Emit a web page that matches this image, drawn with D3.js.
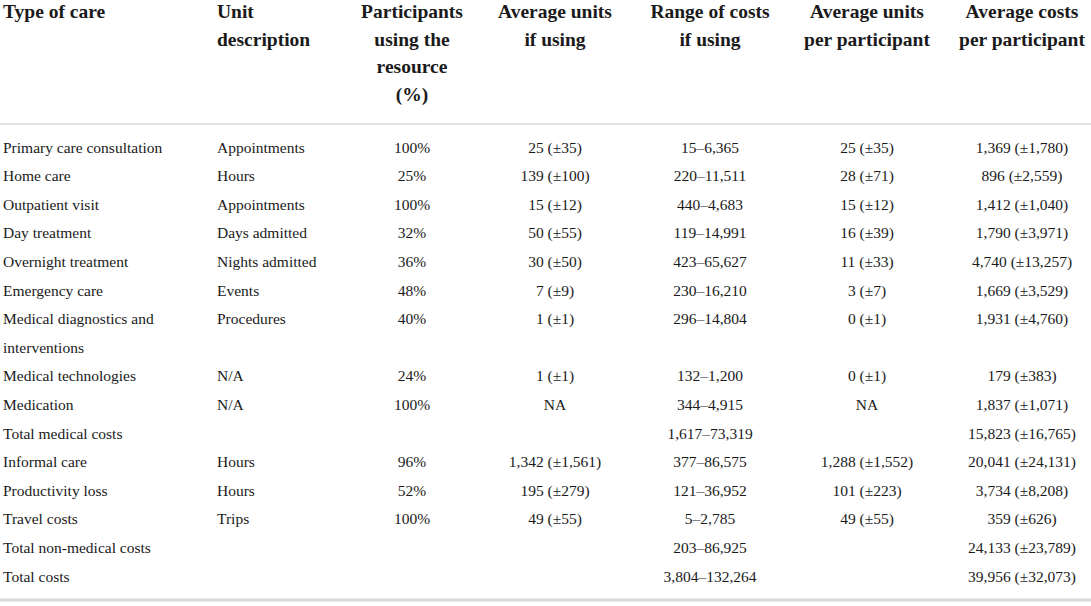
<!DOCTYPE html>
<html>
<head>
<meta charset="utf-8">
<script src="https://cdn.jsdelivr.net/npm/d3@7"></script>
<style>
  html, body { margin: 0; padding: 0; background: #fff; }
  svg { display: block; }
  .head { font-family: "Liberation Serif", "DejaVu Serif", serif; font-weight: bold; font-size: 19.5px; fill: #1a1a1a; }
  .cell { font-family: "Liberation Serif", "DejaVu Serif", serif; font-size: 15.5px; fill: #1a1a1a; }
</style>
</head>
<body>
<div id="chart"></div>
<script>
// Table values
const headers = [
    ['Type of care'],
    ['Unit', 'description'],
    ['Participants', 'using the', 'resource', '(%)'],
    ['Average units', 'if using'],
    ['Range of costs', 'if using'],
    ['Average units', 'per participant'],
    ['Average costs', 'per participant']
];

const careTypes = [
    'Primary care consultation', 'Home care', 'Outpatient visit', 'Day treatment',
    'Overnight treatment', 'Emergency care', 'Medical diagnostics and interventions',
    'Medical technologies', 'Medication', 'Total medical costs', 'Informal care',
    'Productivity loss', 'Travel costs', 'Total non-medical costs', 'Total costs'
];

const unitDescriptions = [
    'Appointments', 'Hours', 'Appointments', 'Days admitted', 'Nights admitted', 'Events',
    'Procedures', 'N/A', 'N/A', '', 'Hours', 'Hours', 'Trips', '', ''
];

const participantsPct = [
    '100%', '25%', '100%', '32%', '36%', '48%', '40%', '24%', '100%', '',
    '96%', '52%', '100%', '', ''
];

const avgUnitsIfUsing = [
    '25 (±35)', '139 (±100)', '15 (±12)', '50 (±55)', '30 (±50)', '7 (±9)', '1 (±1)',
    '1 (±1)', 'NA', '', '1,342 (±1,561)', '195 (±279)', '49 (±55)', '', ''
];

const costRanges = [
    '15–6,365', '220–11,511', '440–4,683', '119–14,991', '423–65,627', '230–16,210',
    '296–14,804', '132–1,200', '344–4,915', '1,617–73,319', '377–86,575', '121–36,952',
    '5–2,785', '203–86,925', '3,804–132,264'
];

const avgUnitsPerParticipant = [
    '25 (±35)', '28 (±71)', '15 (±12)', '16 (±39)', '11 (±33)', '3 (±7)', '0 (±1)',
    '0 (±1)', 'NA', '', '1,288 (±1,552)', '101 (±223)', '49 (±55)', '', ''
];

const avgCostsPerParticipant = [
    '1,369 (±1,780)', '896 (±2,559)', '1,412 (±1,040)', '1,790 (±3,971)', '4,740 (±13,257)',
    '1,669 (±3,529)', '1,931 (±4,760)', '179 (±383)', '1,837 (±1,071)', '15,823 (±16,765)',
    '20,041 (±24,131)', '3,734 (±8,208)', '359 (±626)', '24,133 (±23,789)', '39,956 (±32,073)'
];

const width = 1091;
const height = 606;

// column layout: x position and text anchor
const columns = [
    {x: 3, anchor: 'start'},
    {x: 217, anchor: 'start'},
    {x: 412, anchor: 'middle'},
    {x: 555, anchor: 'middle'},
    {x: 710, anchor: 'middle'},
    {x: 867, anchor: 'middle'},
    {x: 1022, anchor: 'middle'}
];
const firstColWidth = 200;

const svg = d3.select('#chart')
    .append('svg')
    .attr('width', width)
    .attr('height', height);

// Header
const headY = d3.scaleLinear().domain([0, 3]).range([18, 100.5]);
svg.selectAll('.head')
    .data(headers)
    .enter()
    .append('text')
    .attr('class', 'head')
    .attr('text-anchor', (d, i) => columns[i].anchor)
    .each(function(d, i){
        d3.select(this).selectAll('tspan')
            .data(d)
            .enter()
            .append('tspan')
            .attr('x', columns[i].x)
            .attr('y', (t, j) => headY(j))
            .text(t => t);
    });

svg.append('line')
    .attr('x1', 0).attr('x2', width)
    .attr('y1', 124).attr('y2', 124)
    .style('stroke', '#d9d9d9')
    .style('stroke-width', '1.5px');

// Wrap the first column labels, then work out on which text line every row starts
const measure = svg.append('text').attr('class', 'cell').attr('x', -1000).attr('y', -1000);
function wrap(label){
    let words = label.split(' ');
    let lines = [];
    let current = '';
    words.forEach((w) => {
        let test = current ? current + ' ' + w : w;
        measure.text(test);
        if(measure.node().getComputedTextLength() > firstColWidth && current){
            lines.push(current);
            current = w;
        } else {
            current = test;
        }
    });
    lines.push(current);
    return lines;
}
const careLines = careTypes.map(wrap);
measure.remove();

let lineStart = [];
let n = 0;
careLines.forEach((l) => { lineStart.push(n); n += l.length; });

const rowY = d3.scaleLinear().domain([0, n - 1]).range([152.5, 581.5]);

const rows = careTypes.map((c, i) => [
    careLines[i], [unitDescriptions[i]], [participantsPct[i]], [avgUnitsIfUsing[i]],
    [costRanges[i]], [avgUnitsPerParticipant[i]], [avgCostsPerParticipant[i]]
]);

const rowG = svg.selectAll('.row')
    .data(rows)
    .enter()
    .append('g')
    .attr('class', 'row');

rowG.each(function(r, ri){
    d3.select(this).selectAll('text')
        .data(r)
        .enter()
        .append('text')
        .attr('class', 'cell')
        .attr('text-anchor', (d, ci) => columns[ci].anchor)
        .each(function(lines, ci){
            d3.select(this).selectAll('tspan')
                .data(lines)
                .enter()
                .append('tspan')
                .attr('x', columns[ci].x)
                .attr('y', (t, j) => rowY(lineStart[ri] + j))
                .text(t => t);
        });
});

svg.append('line')
    .attr('x1', 0).attr('x2', width)
    .attr('y1', 600).attr('y2', 600)
    .style('stroke', '#d9d9d9')
    .style('stroke-width', '3px');
</script>
</body>
</html>
